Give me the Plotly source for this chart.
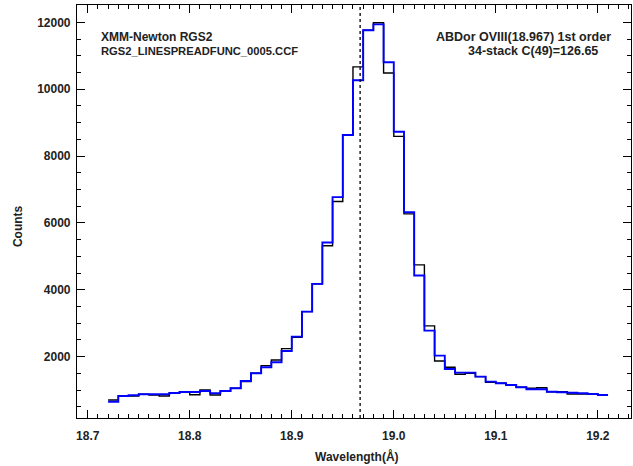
import numpy as np
import plotly.graph_objects as go

# --- data -------------------------------------------------------------
wl_start = 18.72          # lower edge of first bin (Angstrom)
bin_width = 0.01          # bin width (Angstrom)
line_center = 18.967      # OVIII line position

counts_black = [704, 824, 824, 875, 854, 824, 913, 943, 862, 1003,
                854, 973, 1054, 1252, 1503, 1731, 1902, 2240, 2576, 3348,
                4178, 5316, 6643, 8631, 10668, 11764, 11990, 10488, 8589, 6270,
                4747, 2920, 1872, 1683, 1474, 1503, 1402, 1234, 1204, 1153,
                1084, 1054, 1072, 952, 952, 883, 883, 875, 854]
counts_blue = [653, 824, 845, 875, 875, 875, 913, 943, 943, 973,
               904, 973, 1054, 1273, 1503, 1683, 1833, 2171, 2600, 3348,
               4178, 5415, 6774, 8631, 10267, 11764, 11940, 10806, 8730, 6320,
               4426, 2779, 2031, 1632, 1521, 1521, 1402, 1252, 1204, 1153,
               1084, 1024, 1024, 952, 934, 922, 904, 883, 854]

xticks = [18.7, 18.8, 18.9, 19.0, 19.1, 19.2]
xtick_text = ["18.7", "18.8", "18.9", "19.0", "19.1", "19.2"]
yticks = [2000, 4000, 6000, 8000, 10000, 12000]
ytick_text = ["2000", "4000", "6000", "8000", "10000", "12000"]

# --- figure -----------------------------------------------------------
n = len(counts_black)
edges = wl_start + bin_width * np.arange(n + 1)

W, H = 633, 466
ML, MR, MT, MB = 77, 2, 5, 48
pw, ph = W - ML - MR, H - MT - MB

def px(x):
    return (x - ML) / pw

def py(y):
    return (H - MB - y) / ph

fig = go.Figure()
fig.add_trace(go.Scatter(x=edges, y=list(counts_black) + [counts_black[-1]],
                         mode="lines", line=dict(color="black", width=1.4, shape="hv"),
                         showlegend=False, hoverinfo="skip"))
fig.add_trace(go.Scatter(x=edges, y=list(counts_blue) + [counts_blue[-1]],
                         mode="lines", line=dict(color="#0000ff", width=1.9, shape="hv"),
                         showlegend=False, hoverinfo="skip"))

fig.add_shape(type="line", xref="x", yref="paper", x0=line_center, x1=line_center,
              y0=0, y1=1, line=dict(color="black", width=1.3, dash="dot"))

FAM = "Liberation Sans, Arial, sans-serif"
tfont = dict(family=FAM, size=12, color="#222", weight="bold")

def afont(s):
    return dict(family=FAM, size=s, color="#222", weight="bold")

axis_common = dict(showgrid=False, zeroline=False, showline=True, linecolor="black",
                   linewidth=1.2, ticks="inside", ticklen=8, tickwidth=1,
                   tickcolor="black", mirror="allticks", tickfont=tfont)

fig.update_xaxes(range=[18.6895, 19.2325], tickvals=xticks, ticktext=xtick_text,
                 minor=dict(dtick=0.01, tick0=18.7, ticks="inside", ticklen=4,
                            tickcolor="black", tickwidth=1),
                 ticklabelstandoff=6, **axis_common)
fig.update_yaxes(range=[165, 12520], tickvals=yticks, ticktext=ytick_text,
                 minor=dict(dtick=500, tick0=0, ticks="inside", ticklen=4,
                            tickcolor="black", tickwidth=1),
                 ticklabelstandoff=3, **axis_common)

ann = [
    dict(text="XMM-Newton RGS2", x=px(99.4), y=py(36.5), xanchor="left", size=12),
    dict(text="RGS2_LINESPREADFUNC_0005.CCF", x=px(99.4), y=py(51), xanchor="left", size=11.2),
    dict(text="ABDor OVIII(18.967) 1st order", x=px(523), y=py(36.5), xanchor="center", size=12.5),
    dict(text="34-stack C(49)=126.65", x=px(533), y=py(51), xanchor="center", size=12.5),
]
for a in ann:
    s = a.pop("size")
    fig.add_annotation(xref="paper", yref="paper", showarrow=False, yanchor="middle",
                       font=afont(s), **a)

fig.add_annotation(text="Wavelength(Å)", xref="paper", yref="paper", x=px(357), y=py(456.7),
                   xanchor="center", yanchor="middle", showarrow=False, font=tfont)
fig.add_annotation(text="Counts", xref="paper", yref="paper", x=px(18.3), y=py(225.8),
                   xanchor="center", yanchor="middle", showarrow=False, textangle=-90, font=tfont)

fig.update_layout(width=W, height=H, margin=dict(l=ML, r=MR, t=MT, b=MB),
                  paper_bgcolor="white", plot_bgcolor="white")

fig.write_html("out.html", config={"displayModeBar": False},
               post_script="document.body.style.margin='0px';document.body.style.padding='0px';")
